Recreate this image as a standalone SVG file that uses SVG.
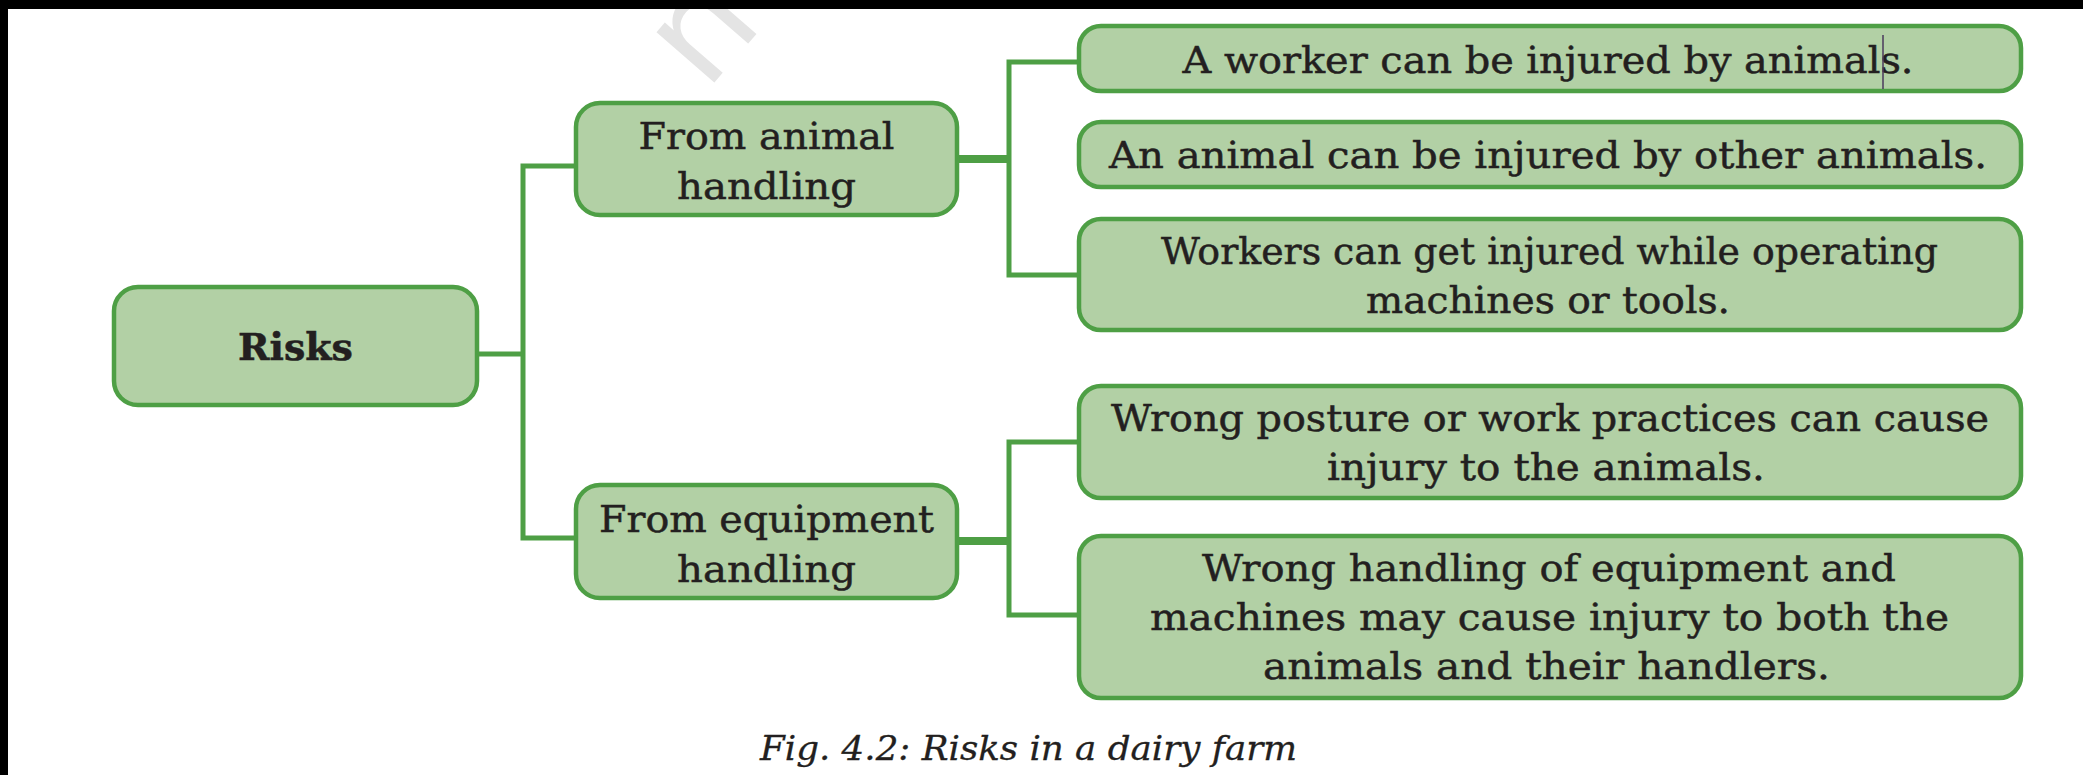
<svg xmlns="http://www.w3.org/2000/svg" width="2083" height="775" viewBox="0 0 2083 775">
  <style>
    .box { fill: #B2D0A5; stroke: #4E9F45; stroke-width: 4.5; }
    .link { fill: none; stroke: #4E9F45; stroke-width: 5; stroke-linejoin: miter; stroke-linecap: butt; }
    .stem { fill: none; stroke: #4E9F45; stroke-width: 8; }
    .t { font-family: "DejaVu Serif", "Liberation Serif", serif; font-size: 38px; fill: #231F20; stroke: #231F20; stroke-width: 0.5; text-anchor: middle; }
    .tb { font-weight: bold; }
    .cap { font-family: "DejaVu Serif", "Liberation Serif", serif; font-style: italic; font-size: 33px; fill: #231F20; stroke: #231F20; stroke-width: 0.3; }
    .wm { font-family: "DejaVu Sans", sans-serif; font-size: 140px; fill: #E4E4E4; }
  </style>

  <rect x="0" y="0" width="2083" height="775" fill="#FFFFFF"/>

  <!-- faint diagonal watermark -->
  <text class="wm" x="706" y="92" transform="rotate(-49 706 92)">ne</text>

  <!-- page edges -->
  <rect x="0" y="0" width="2083" height="9" fill="#000000"/>
  <rect x="0" y="0" width="8" height="775" fill="#000000"/>

  <g id="connectors">
    <line class="link" x1="479" y1="354" x2="523" y2="354"/>
    <path class="link" d="M574,166 H523 V538 H574"/>
    <line class="stem" x1="959" y1="159" x2="1009" y2="159"/>
    <path class="link" d="M1077,62 H1009 V275 H1077"/>
    <line class="stem" x1="959" y1="541" x2="1009" y2="541"/>
    <path class="link" d="M1077,442 H1009 V615 H1077"/>
  </g>

  <g id="risks">
    <rect class="box" x="114" y="287" width="363" height="118" rx="24"/>
    <text class="t tb" x="295.5" y="360" textLength="115" lengthAdjust="spacingAndGlyphs">Risks</text>
  </g>

  <g id="animal-handling">
    <rect class="box" x="576" y="103" width="381" height="112" rx="24"/>
    <text class="t" x="766.5" y="149" textLength="256" lengthAdjust="spacingAndGlyphs">From animal</text>
    <text class="t" x="766.5" y="199" textLength="179" lengthAdjust="spacingAndGlyphs">handling</text>
  </g>

  <g id="equipment-handling">
    <rect class="box" x="576" y="485" width="381" height="113" rx="24"/>
    <text class="t" x="766.5" y="532" textLength="335" lengthAdjust="spacingAndGlyphs">From equipment</text>
    <text class="t" x="766.5" y="582" textLength="179" lengthAdjust="spacingAndGlyphs">handling</text>
  </g>

  <g id="worker-injured">
    <rect class="box" x="1079" y="26" width="942" height="65" rx="22"/>
    <text class="t" x="1548" y="73" textLength="731" lengthAdjust="spacingAndGlyphs">A worker can be injured by animals.</text>
    <line x1="1883" y1="35" x2="1883" y2="89" stroke="#4A3A5C" stroke-width="1.5"/>
  </g>

  <g id="animal-injured">
    <rect class="box" x="1079" y="122" width="942" height="65" rx="22"/>
    <text class="t" x="1548" y="168" textLength="878" lengthAdjust="spacingAndGlyphs">An animal can be injured by other animals.</text>
  </g>

  <g id="machine-injury">
    <rect class="box" x="1079" y="219" width="942" height="111" rx="22"/>
    <text class="t" x="1549.5" y="264" textLength="777" lengthAdjust="spacingAndGlyphs">Workers can get injured while operating</text>
    <text class="t" x="1548" y="313" textLength="364" lengthAdjust="spacingAndGlyphs">machines or tools.</text>
  </g>

  <g id="posture-injury">
    <rect class="box" x="1079" y="386" width="942" height="112" rx="22"/>
    <text class="t" x="1550" y="431" textLength="878" lengthAdjust="spacingAndGlyphs">Wrong posture or work practices can cause</text>
    <text class="t" x="1546" y="480" textLength="438" lengthAdjust="spacingAndGlyphs">injury to the animals.</text>
  </g>

  <g id="equipment-injury">
    <rect class="box" x="1079" y="536" width="942" height="162" rx="22"/>
    <text class="t" x="1549" y="581" textLength="694" lengthAdjust="spacingAndGlyphs">Wrong handling of equipment and</text>
    <text class="t" x="1549.5" y="630" textLength="799" lengthAdjust="spacingAndGlyphs">machines may cause injury to both the</text>
    <text class="t" x="1546.5" y="679" textLength="567" lengthAdjust="spacingAndGlyphs">animals and their handlers.</text>
  </g>

  <text id="caption" class="cap" x="760" y="760" textLength="537" lengthAdjust="spacingAndGlyphs">Fig. 4.2: Risks in a dairy farm</text>
</svg>
